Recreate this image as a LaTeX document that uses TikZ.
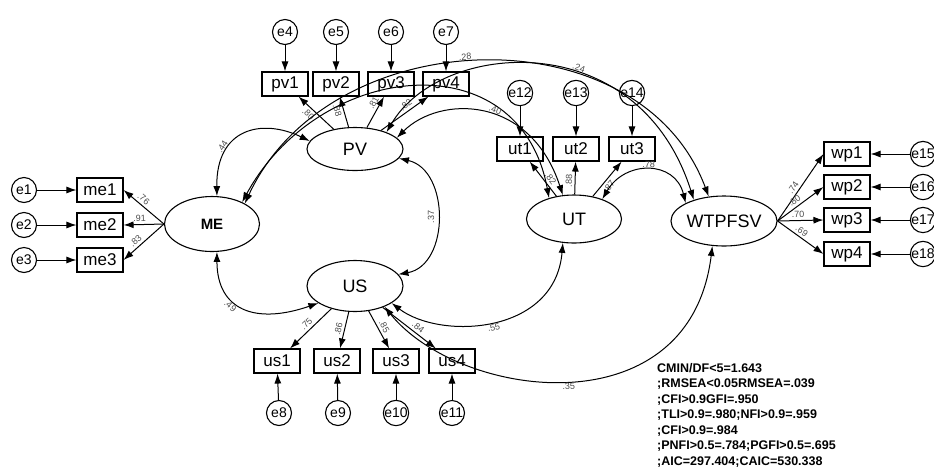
\documentclass[tikz,border=0pt]{standalone}
\usepackage{fontspec}
\setmainfont{Liberation Sans}
\usetikzlibrary{arrows.meta,calc,positioning,shapes.geometric}

\tikzset{
  box/.style={draw,line width=1.1pt,minimum width=46pt,minimum height=24pt,
              inner sep=0pt,font=\fontsize{17}{17}\selectfont},
  err/.style={draw,circle,line width=1.1pt,minimum size=25pt,inner sep=0pt,
              font=\fontsize{14}{14}\selectfont},
  lat/.style={draw,ellipse,line width=1.1pt,inner sep=0pt,
              font=\fontsize{18}{18}\selectfont},
  ld/.style={-{Latex[length=10pt,width=7pt]},line width=1pt},
  cv/.style={{Latex[length=10pt,width=7pt]}-{Latex[length=10pt,width=7pt]},line width=1pt},
  est/.style={font=\fontsize{9}{9}\selectfont,inner sep=2.5pt,sloped,text=black!70},
  stats/.style={anchor=north west,align=left,inner sep=0pt,
                font=\fontsize{12.5}{15.5}\selectfont\bfseries},
}

\begin{document}
\begin{tikzpicture}[x=1pt,y=-1pt]
\useasboundingbox (0,0) rectangle (934,475) ;
%
% latent variables
  \node [lat,minimum width=95pt,minimum height=55pt,
         font=\fontsize{15}{15}\selectfont\bfseries] (me) at (212,224) {ME} ;
  \node [lat,minimum width=96pt,minimum height=43pt] (pv)  at (355,149) {PV} ;
  \node [lat,minimum width=96pt,minimum height=51pt] (us)  at (355,286) {US} ;
  \node [lat,minimum width=95pt,minimum height=48pt] (ut)  at (574,219) {UT} ;
  \node [lat,minimum width=92pt,minimum height=50pt] (wtp) at (724,221) {WTPFSV} ;
%
% indicators
  \node [box] (me1) at (100,190) {me1} ;
  \node [box] (me2) at (100,225) {me2} ;
  \node [box] (me3) at (100,260) {me3} ;
%
  \node [box] (pv1) at (285,84) {pv1} ;
  \node [box] (pv2) at (336,84) {pv2} ;
  \node [box] (pv3) at (391,84) {pv3} ;
  \node [box] (pv4) at (446,84) {pv4} ;
%
  \node [box] (ut1) at (520,149) {ut1} ;
  \node [box] (ut2) at (576,149) {ut2} ;
  \node [box] (ut3) at (632,149) {ut3} ;
%
  \node [box] (us1) at (277,361) {us1} ;
  \node [box] (us2) at (337,361) {us2} ;
  \node [box] (us3) at (396,361) {us3} ;
  \node [box] (us4) at (452,361) {us4} ;
%
  \node [box] (wp1) at (847,154) {wp1} ;
  \node [box] (wp2) at (847,187) {wp2} ;
  \node [box] (wp3) at (847,220) {wp3} ;
  \node [box] (wp4) at (847,254) {wp4} ;
%
% error terms
  \node [err] (e1) at (24,190) {e1} ;
  \node [err] (e2) at (24,225) {e2} ;
  \node [err] (e3) at (24,260) {e3} ;
  \node [err] (e4) at (285,32) {e4} ;
  \node [err] (e5) at (336,32) {e5} ;
  \node [err] (e6) at (391,32) {e6} ;
  \node [err] (e7) at (446,32) {e7} ;
  \node [err] (e8)  at (279,413) {e8} ;
  \node [err] (e9)  at (338,413) {e9} ;
  \node [err] (e10) at (396,413) {e10} ;
  \node [err] (e11) at (452,413) {e11} ;
  \node [err] (e12) at (520,93) {e12} ;
  \node [err] (e13) at (576,93) {e13} ;
  \node [err] (e14) at (632,93) {e14} ;
  \node [err] (e15) at (923,154) {e15} ;
  \node [err] (e16) at (923,187) {e16} ;
  \node [err] (e17) at (923,220) {e17} ;
  \node [err] (e18) at (923,254) {e18} ;
%
% loadings
  \draw [ld] (me.west) -- (me1.east) node [est,pos=.6,above] {.76} ;
  \draw [ld] (me.west) -- (me2.east) node [est,pos=.6,above] {.91} ;
  \draw [ld] (me.west) -- (me3.east) node [est,pos=.6,above] {.83} ;
%
  \draw [ld] (pv) -- (pv1) node [est,pos=.6,below] {.80} ;
  \draw [ld] (pv) -- (pv2) node [est,pos=.6,below] {.88} ;
  \draw [ld] (pv) -- (pv3) node [est,pos=.7,above] {.81} ;
  \draw [ld] (pv) -- (pv4) node [est,pos=.6,above] {.82} ;
%
  \draw [ld] (ut) -- (ut1) node [est,pos=.4,above] {.82} ;
  \draw [ld] (ut) -- (ut2) node [est,pos=.4,above] {.88} ;
  \draw [ld] (ut) -- (ut3) node [est,pos=.4,below] {.87} ;
%
  \draw [ld] (us) -- (us1) node [est,pos=.5,above] {.75} ;
  \draw [ld] (us) -- (us2) node [est,pos=.5,above] {.86} ;
  \draw [ld] (us) -- (us3) node [est,pos=.5,above] {.85} ;
  \draw [ld] (us) -- (us4) node [est,pos=.6,above] {.84} ;
%
  \draw [ld] (wtp.east) -- (wp1.west) node [est,pos=.45,above] {.74} ;
  \draw [ld] (wtp.east) -- (wp2.west) node [est,pos=.45,above] {.80} ;
  \draw [ld] (wtp.east) -- (wp3.west) node [est,pos=.45,above] {.70} ;
  \draw [ld] (wtp.east) -- (wp4.west) node [est,pos=.45,above] {.69} ;
%
% errors
  \draw [ld] (e1) -- (me1) ;
  \draw [ld] (e2) -- (me2) ;
  \draw [ld] (e3) -- (me3) ;
  \draw [ld] (e4) -- (pv1) ;
  \draw [ld] (e5) -- (pv2) ;
  \draw [ld] (e6) -- (pv3) ;
  \draw [ld] (e7) -- (pv4) ;
  \draw [ld] (e8)  -- (us1) ;
  \draw [ld] (e9)  -- (us2) ;
  \draw [ld] (e10) -- (us3) ;
  \draw [ld] (e11) -- (us4) ;
  \draw [ld] (e12) -- (ut1) ;
  \draw [ld] (e13) -- (ut2) ;
  \draw [ld] (e14) -- (ut3) ;
  \draw [ld] (e15) -- (wp1) ;
  \draw [ld] (e16) -- (wp2) ;
  \draw [ld] (e17) -- (wp3) ;
  \draw [ld] (e18) -- (wp4) ;
%
% covariances
  \draw [cv] (me.80) .. controls (216,128) and (262,118) .. (pv.170)
    node [est,pos=.3,above] {.44} ;
  \draw [cv] (me.-80) .. controls (217,310) and (255,325) .. (us.205)
    node [est,pos=.4,below] {.49} ;
  \draw [cv] (pv.-12) .. controls (450,170) and (450,265) .. (us.15)
    node [est,pos=.5,above] {.37} ;
  \draw [cv] (us.-25) .. controls (440,340) and (555,335) .. (ut.-115)
    node [est,pos=.5,below] {.55} ;
  \draw [cv] (us.-35) .. controls (460,400) and (690,430) .. (wtp.-115)
    node [est,pos=.5,below] {.35} ;
  \draw [cv] (me.32) .. controls (330,20) and (640,12) .. (wtp.122)
    node [est,pos=.47,above] {.28} ;
  \draw [cv] (me.36) .. controls (320,60) and (520,40) .. (ut.140) ;
  \draw [cv] (pv.28) .. controls (440,40) and (638,24) .. (wtp.145)
    node [est,pos=.6,above] {.24} ;
  \draw [cv] (pv.15) .. controls (440,95) and (530,95) .. (ut.115)
    node [est,pos=.55,above] {.40} ;
  \draw [cv] (ut.35) .. controls (625,160) and (675,160) .. (wtp.155)
    node [est,pos=.5,above] {.78} ;
%
% fit indices
  \node [stats] (fit) at (657,363) {CMIN/DF<5=1.643\\
    ;RMSEA<0.05RMSEA=.039\\
    ;CFI>0.9GFI=.950\\
    ;TLI>0.9=.980;NFI>0.9=.959\\
    ;CFI>0.9=.984\\
    ;PNFI>0.5=.784;PGFI>0.5=.695\\
    ;AIC=297.404;CAIC=530.338} ;
%
\end{tikzpicture}
\end{document}
